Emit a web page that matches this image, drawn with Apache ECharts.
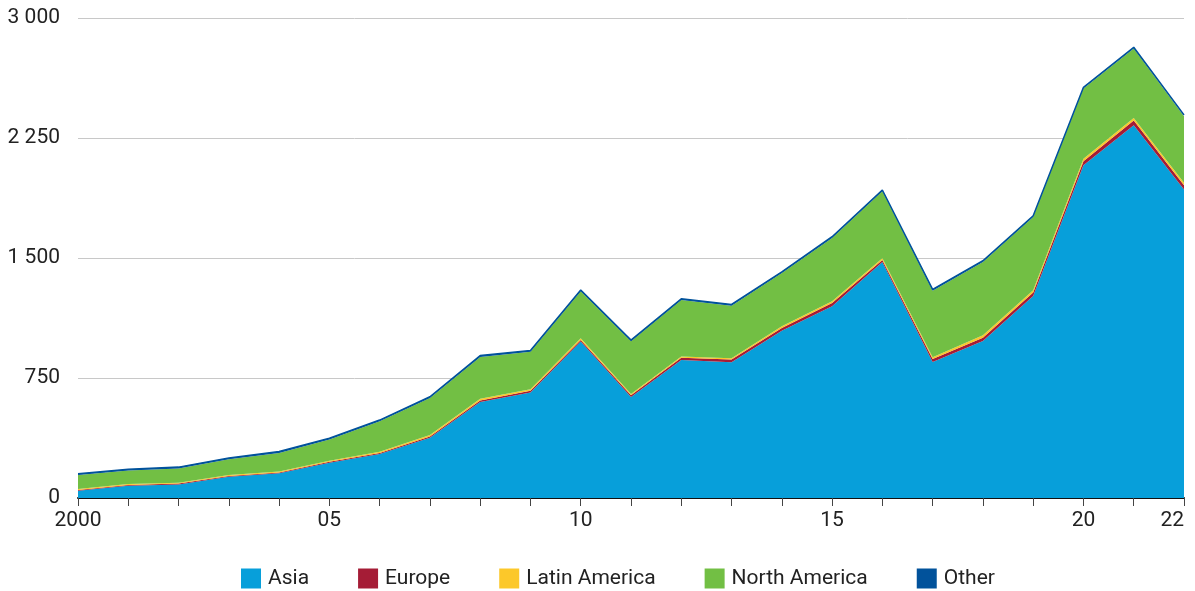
<!DOCTYPE html>
<html>
<head>
<meta charset="utf-8">
<script src="https://cdn.jsdelivr.net/npm/echarts@6/dist/echarts.min.js"></script>
<style>
  html, body { margin: 0; padding: 0; background: #fff; }
  #chart { width: 1195px; height: 591px; }
</style>
</head>
<body>
<div id="chart"></div>
<script>
  var years = ['2000', '2001', '2002', '2003', '2004', '2005', '2006', '2007', '2008', '2009', '2010',
    '2011', '2012', '2013', '2014', '2015', '2016', '2017', '2018', '2019', '2020', '2021', '2022'];
  var shownLabels = { '2000': '2000', '2005': '05', '2010': '10', '2015': '15', '2020': '20', '2022': '22' };

  var asia = [46, 77, 85, 133, 155, 220, 275, 377, 600, 660, 978, 632, 862, 848, 1045, 1198, 1475, 850, 982, 1262, 2080, 2330, 1928];
  var europe = [4, 4, 5, 5, 5, 6, 7, 8, 10, 10, 10, 10, 15, 18, 18, 20, 12, 18, 20, 22, 25, 30, 27];
  var latinAmerica = [6, 6, 6, 6, 6, 7, 7, 8, 10, 10, 10, 8, 8, 8, 10, 12, 12, 12, 15, 15, 15, 15, 15];
  var northAmerica = [88, 85, 89, 98, 116, 132, 190, 232, 262, 234, 294, 329, 352, 328, 333, 395, 418, 416, 458, 457, 439, 434, 416];
  var other = [8, 8, 8, 8, 8, 8, 8, 8, 8, 8, 8, 8, 8, 8, 8, 8, 8, 8, 8, 8, 8, 8, 8];

  var yTicks = [0, 750, 1500, 2250, 3000];

  var chart = echarts.init(document.getElementById('chart'));

  function areaSeries(name, data, color, lineWidth) {
    return {
      name: name,
      type: 'line',
      stack: 'total',
      data: data,
      symbol: 'none',
      color: color,
      lineStyle: { width: lineWidth, color: color },
      areaStyle: { color: color, opacity: 1 }
    };
  }

  var option = {
    animation: false,
    textStyle: { fontFamily: 'Roboto', color: '#333' },
    grid: { left: 78, right: 11, top: 18, bottom: 93, containLabel: false },
    legend: {
      top: 563,
      left: 236,
      itemWidth: 20,
      itemHeight: 20,
      itemGap: 49,
      icon: 'rect',
      textStyle: { fontSize: 21, color: '#222', fontFamily: 'Roboto', padding: [0, 0, 0, 2] },
      data: ['Asia', 'Europe', 'Latin America', 'North America', 'Other']
    },
    xAxis: {
      type: 'category',
      boundaryGap: false,
      data: years,
      axisLine: { show: true, lineStyle: { color: '#111', width: 2 } },
      axisTick: { show: true, interval: 0, length: 8, lineStyle: { color: '#444', width: 1 } },
      axisLabel: {
        interval: 0,
        fontSize: 21,
        color: '#222',
        margin: 12,
        alignMaxLabel: 'right',
        formatter: function (v) { return shownLabels[v] || ''; }
      },
      splitLine: { show: false }
    },
    yAxis: {
      type: 'value',
      min: yTicks[0],
      max: yTicks[yTicks.length - 1],
      interval: 750,
      axisLine: { show: false },
      axisTick: { show: false },
      axisLabel: {
        fontSize: 21,
        color: '#222',
        margin: 18,
        formatter: function (v) {
          return String(v).replace(/\B(?=(\d{3})+(?!\d))/g, ' ');
        }
      },
      splitLine: { lineStyle: { color: '#c8c8c8', width: 1 } }
    },
    series: [
      areaSeries('Asia', asia, '#079fda', 0),
      areaSeries('Europe', europe, '#a51c36', 0),
      areaSeries('Latin America', latinAmerica, '#fcc82a', 0),
      areaSeries('North America', northAmerica, '#72bf44', 0),
      areaSeries('Other', other, '#01529b', 1.5)
    ]
  };

  chart.setOption(option);
</script>
</body>
</html>
